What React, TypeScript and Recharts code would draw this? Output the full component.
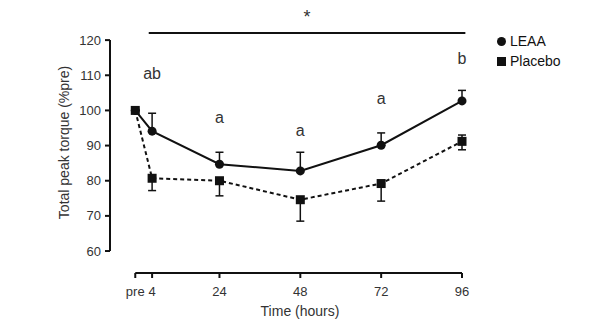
import {
  ComposedChart,
  Line,
  Scatter,
  XAxis,
  YAxis,
  ErrorBar,
  ReferenceLine,
  Legend,
} from 'recharts';

// time points ("pre" sits just left of the 4 h mark)
const timeLabels = ['pre', '4', '24', '48', '72', '96'];
const timeHours = [-1, 4, 24, 48, 72, 96];

const leaa = [100, 94.1, 84.7, 82.8, 90.1, 102.7];
const leaaErrUp = [0, 5.1, 3.4, 5.3, 3.5, 3.0];

const placebo = [100, 80.7, 80.0, 74.6, 79.2, 91.2];
const placeboErrDown = [0, 3.5, 4.3, 6.1, 5.0, 2.4];
const placeboErrUp = [0, 0, 0, 0, 0, 1.8];

// significance letters above LEAA points
const letters = ['', 'ab', 'a', 'a', 'a', 'b'];
const letterY = [null, 110.6, 98.1, 94.4, 103.5, 114.9];

const yTicks = [60, 70, 80, 90, 100, 110, 120];
const Y_MIN = 53.75;
const Y_MAX = 128;
const X_MIN = -8.5;

const data = timeHours.map((t, i) => ({
  t,
  leaa: leaa[i],
  leaaErr: [0, leaaErrUp[i]],
  placebo: placebo[i],
  placeboErr: [placeboErrDown[i], placeboErrUp[i]],
  letter: letters[i],
  letterY: letterY[i],
}));

const ink = '#111';
const textColor = '#333';

const SquareDot = (props: any) => {
  const { cx, cy } = props;
  if (cx == null || cy == null) return null;
  return <rect x={cx - 4.5} y={cy - 4.5} width={9} height={9} fill={ink} />;
};

const LetterShape = (props: any) => {
  const { cx, cy, payload } = props;
  if (!payload || !payload.letter) return null;
  return (
    <text x={cx} y={cy} textAnchor="middle" dominantBaseline="central" fontSize={16} fill={textColor}>
      {payload.letter}
    </text>
  );
};

export default function App() {
  return (
    <div style={{ position: 'absolute', left: 0, top: 0, fontFamily: '"Liberation Sans", Arial, sans-serif' }}>
      <ComposedChart
        width={600}
        height={330}
        data={data}
        margin={{ top: 12, right: 138, left: 65, bottom: 27 }}
      >
        <XAxis
          dataKey="t"
          type="number"
          domain={[X_MIN, 96]}
          ticks={timeHours}
          interval={0}
          tickFormatter={(v: number) => timeLabels[timeHours.indexOf(v)] ?? ''}
          axisLine={false}
          tickLine={{ stroke: ink, strokeWidth: 2 }}
          tickSize={5}
          tickMargin={9}
          height={30}
          tick={{ fill: textColor, fontSize: 13 }}
          label={{ value: 'Time (hours)', position: 'bottom', offset: 3, dx: 14, fill: textColor, fontSize: 14 }}
        />
        <YAxis
          type="number"
          domain={[Y_MIN, Y_MAX]}
          ticks={yTicks}
          axisLine={false}
          tickLine={{ stroke: ink, strokeWidth: 2 }}
          tickSize={5}
          tickMargin={4}
          width={45}
          tick={{ fill: textColor, fontSize: 13 }}
          label={{
            value: 'Total peak torque (%pre)',
            angle: -90,
            position: 'insideLeft',
            offset: -1,
            fill: textColor,
            fontSize: 14,
            style: { textAnchor: 'middle' },
          }}
        />
        {/* detached axis lines */}
        <ReferenceLine
          segment={[{ x: X_MIN, y: 60 }, { x: X_MIN, y: 120 }]}
          stroke={ink}
          strokeWidth={2}
          ifOverflow="visible"
        />
        <ReferenceLine
          segment={[{ x: timeHours[0], y: Y_MIN }, { x: 96, y: Y_MIN }]}
          stroke={ink}
          strokeWidth={2}
          ifOverflow="visible"
        />
        {/* overall significance bar */}
        <ReferenceLine
          segment={[{ x: 3, y: 122 }, { x: 97, y: 122 }]}
          stroke={ink}
          strokeWidth={2}
          ifOverflow="visible"
          label={{ value: '*', position: 'top', offset: 10, fill: textColor, fontSize: 18 }}
        />
        <Legend
          layout="vertical"
          align="center"
          verticalAlign="middle"
          iconSize={9}
          wrapperStyle={{ left: 497, top: 31, lineHeight: '20px', width: 'auto' }}
          formatter={(value: string) => (
            <span style={{ color: ink, fontSize: 14 }}>{value}</span>
          )}
        />
        <Line
          name="LEAA"
          dataKey="leaa"
          stroke={ink}
          strokeWidth={2}
          legendType="circle"
          dot={{ r: 4.5, fill: ink, stroke: ink, strokeWidth: 0 }}
          activeDot={false}
          isAnimationActive={false}
        >
          <ErrorBar dataKey="leaaErr" direction="y" width={4} stroke={ink} strokeWidth={1.5} />
        </Line>
        <Line
          name="Placebo"
          dataKey="placebo"
          stroke={ink}
          strokeWidth={2}
          strokeDasharray="4 3"
          legendType="square"
          dot={<SquareDot />}
          activeDot={false}
          isAnimationActive={false}
        >
          <ErrorBar dataKey="placeboErr" direction="y" width={4} stroke={ink} strokeWidth={1.5} />
        </Line>
        <Scatter
          dataKey="letterY"
          legendType="none"
          shape={<LetterShape />}
          isAnimationActive={false}
        />
      </ComposedChart>
    </div>
  );
}
